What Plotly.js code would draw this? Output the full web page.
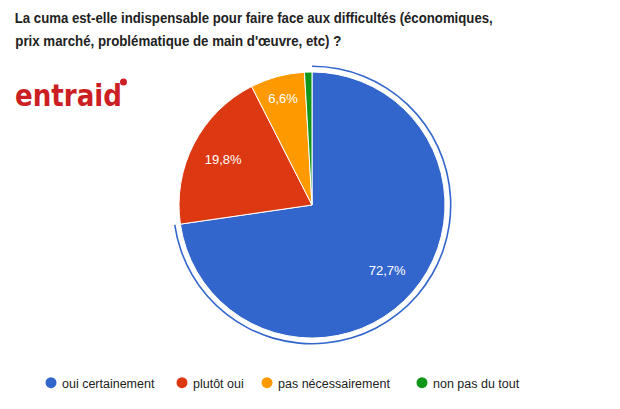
<!DOCTYPE html>
<html><head><meta charset="utf-8">
<script src="https://cdn.plot.ly/plotly-3.0.1.min.js"></script>
<style>html,body{margin:0;padding:0;background:#fff}#chart{width:620px;height:409px}
#chart .infolayer g.traces text{transform:translateX(-9px)}</style>
</head><body><div id="chart"></div>
<script>
const categories = ['oui certainement', 'plutôt oui', 'pas nécessairement', 'non pas du tout'];
const values = [72.7, 19.8, 6.6, 0.9];
const sliceLabels = ['72,7%', '19,8%', '6,6%', ''];
const colors = ['#3366cc', '#dc3912', '#ff9900', '#109618'];
const titleLines = ['La cuma est-elle indispensable pour faire face aux difficultés (économiques,', "prix marché, problématique de main d'œuvre, etc) ?"];
const logoText = 'entraid';

const W = 620, H = 409;
const cx = 312, cy = 205, r = 133, rr = 139.5;
function dom(rad) {
  return { x: [(cx - rad) / W, (cx + rad) / W], y: [(H - cy - rad) / H, (H - cy + rad) / H] };
}
const base = { type: 'pie', values: values, labels: categories, sort: false, direction: 'clockwise', rotation: 0, hoverinfo: 'skip', showlegend: false };

const traces = [];
// highlight ring around the first slice
traces.push(Object.assign({}, base, {
  domain: dom(rr), hole: (rr - 1.6) / rr,
  marker: { colors: colors.map((c, i) => i === 0 ? c : 'rgba(0,0,0,0)'), line: { width: 0 } },
  textinfo: 'none'
}));
traces.push(Object.assign({}, base, {
  domain: dom(r),
  marker: { colors: colors, line: { color: '#ffffff', width: 1 } },
  textinfo: 'none'
}));
// transparent donut carrying the percentage labels
traces.push(Object.assign({}, base, {
  domain: dom(r), hole: 0.5,
  marker: { colors: colors.map(() => 'rgba(0,0,0,0)'), line: { width: 0 } },
  text: sliceLabels, texttemplate: '%{text}', textposition: 'inside', insidetextorientation: 'horizontal',
  insidetextfont: { color: '#ffffff', size: 13, family: 'Liberation Sans, Arial, sans-serif' }
}));
const legendIds = ['legend', 'legend2', 'legend3', 'legend4'];
const legendX = [31, 162, 247, 402];
categories.forEach((c, i) => {
  traces.push({
    type: 'scatter', mode: 'markers', x: [null], y: [null], name: c, legend: legendIds[i],
    marker: { color: colors[i], size: 11, symbol: 'circle' }, showlegend: true, hoverinfo: 'skip'
  });
});

const layout = {
  width: W, height: H,
  margin: { l: 0, r: 0, t: 0, b: 0 },
  paper_bgcolor: '#ffffff', plot_bgcolor: 'rgba(0,0,0,0)',
  xaxis: { visible: false }, yaxis: { visible: false },
  showlegend: true,
  annotations: [
    { text: titleLines[0], xref: 'paper', yref: 'paper', x: (15 + 478 / 2) / W, y: (H - 18) / H, xanchor: 'center', yanchor: 'middle', showarrow: false,
      font: { family: 'Liberation Sans, Arial, sans-serif', size: 15, color: '#222222', weight: 'bold' } },
    { text: titleLines[1], xref: 'paper', yref: 'paper', x: (15 + 326 / 2) / W, y: (H - 41) / H, xanchor: 'center', yanchor: 'middle', showarrow: false,
      font: { family: 'Liberation Sans, Arial, sans-serif', size: 15, color: '#222222', weight: 'bold' } },
    { text: logoText, xref: 'paper', yref: 'paper', x: (15 + 107 / 2) / W, y: (H - 95) / H, xanchor: 'center', yanchor: 'middle', showarrow: false,
      font: { family: 'DejaVu Sans, sans-serif', size: 30, color: '#cc1f24', weight: 'bold' } }
  ],
  shapes: [
    { type: 'circle', xref: 'paper', yref: 'paper', x0: 120 / W, x1: 127 / W, y0: (H - 85.5) / H, y1: (H - 78.5) / H,
      fillcolor: '#cc1f24', line: { width: 0 } }
  ]
};
legendIds.forEach((id, i) => {
  layout[id] = {
    orientation: 'h', x: legendX[i] / W, xanchor: 'left', y: 26 / H, yanchor: 'middle',
    font: { family: 'Liberation Sans, Arial, sans-serif', size: 12.5, color: '#222222' },
    itemwidth: 30, bgcolor: 'rgba(0,0,0,0)'
  };
});
const textLengths = [478, 326, 107];

Plotly.newPlot('chart', traces, layout, { staticPlot: true, displayModeBar: false }).then(gd => {
  const ann = gd.querySelectorAll('.annotation-text');
  textLengths.forEach((len, i) => {
    if (ann[i]) { ann[i].setAttribute('textLength', len); ann[i].setAttribute('lengthAdjust', 'spacingAndGlyphs'); }
  });
});
</script>
</body></html>
